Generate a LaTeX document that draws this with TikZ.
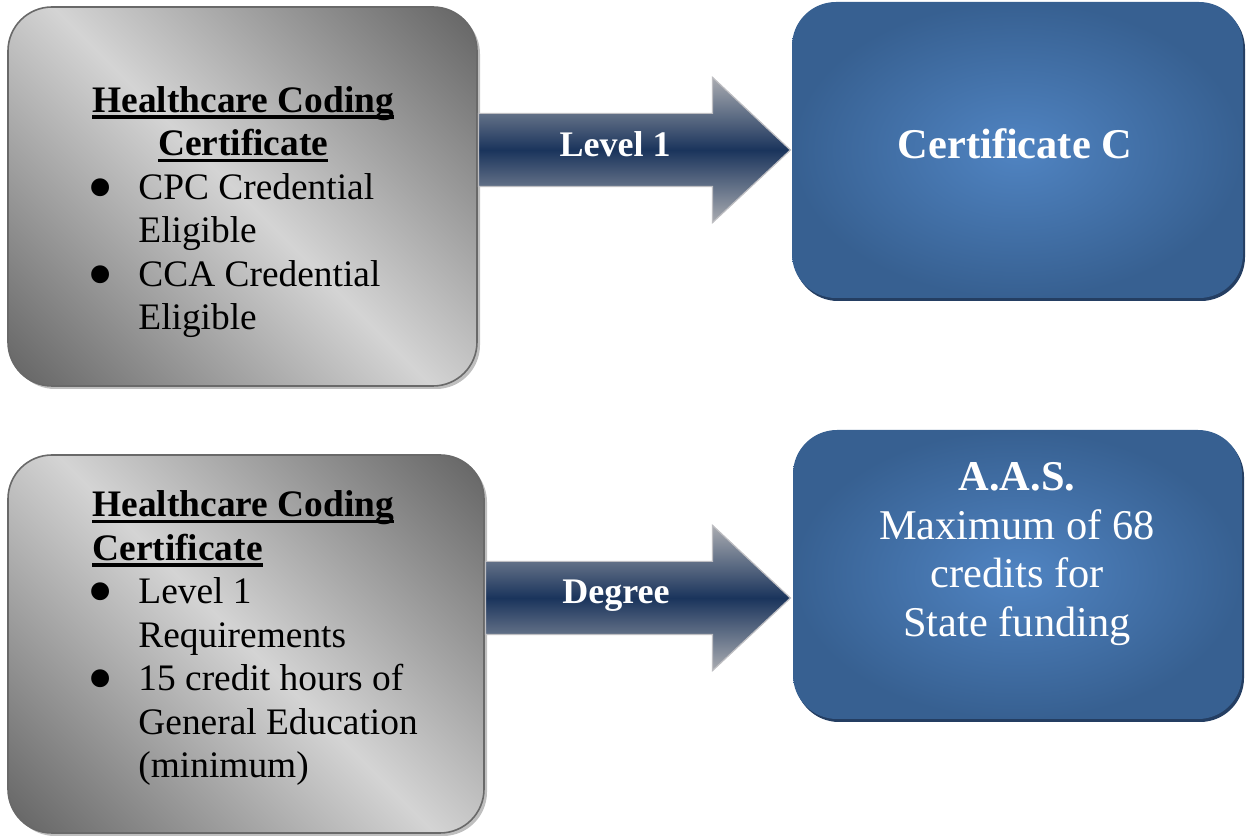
\documentclass[tikz,border=0pt]{standalone}
\usepackage{fontspec}
\usepackage{graphicx}
\setmainfont{Liberation Serif}
\usetikzlibrary{shapes.arrows,shadows}
\definecolor{boxdark}{RGB}{100,100,100}
\definecolor{boxlight}{RGB}{212,212,212}
\definecolor{boxline}{RGB}{105,105,105}
\definecolor{blueedge}{RGB}{55,96,145}
\definecolor{bluecentre}{RGB}{80,132,194}
\definecolor{blueshadow}{RGB}{36,62,98}
\definecolor{arrownavy}{RGB}{26,52,92}
\definecolor{arrowgrey}{RGB}{170,172,177}
\definecolor{arrowline}{RGB}{190,190,194}
\pgfdeclareverticalshading{greyband}{100bp}{color(0bp)=(boxdark); color(15bp)=(boxdark); color(50bp)=(boxlight); color(85bp)=(boxdark); color(100bp)=(boxdark)}
\newcommand{\titleline}[1]{\setbox0\hbox{#1}\rlap{\rule[-3.2pt]{\wd0}{1.8pt}}\box0}
\newcommand{\bull}{\makebox[23pt][l]{\hspace{-2.5pt}\raisebox{-6.3pt}[0pt][0pt]{\scalebox{2}{\textbullet}}}}
\tikzset{
  greybox/.style={rectangle, rounded corners=22pt, draw=boxline, line width=0.8pt,
    shading=greyband, shading angle=-45,
    drop shadow={shadow xshift=1.5pt, shadow yshift=-1.5pt, fill=black, opacity=0.25}},
  bluebox/.style={rectangle, rounded corners=22pt, draw=none,
    inner color=bluecentre, outer color=blueedge,
    drop shadow={shadow xshift=1pt, shadow yshift=-1.5pt, fill=blueshadow, opacity=1}},
  blockarrow/.style={single arrow, single arrow head extend=18pt, single arrow tip angle=86,
    inner xsep=0pt, inner ysep=18pt, anchor=tail, draw=arrowline, line width=0.6pt,
    top color=arrowgrey, bottom color=arrowgrey, middle color=arrownavy},
  boxtext/.style={inner sep=0pt, font=\fontsize{18.7}{21.75}\selectfont},
  arrowtext/.style={inner sep=0pt, anchor=base, text=white, font=\fontsize{18}{21}\selectfont\bfseries},
  bluetext/.style={inner sep=0pt, anchor=base, text=white, font=\fontsize{21.2}{24.2}\selectfont}
}

\begin{document}
\begin{tikzpicture}[x=0.5pt,y=-0.5pt]
\useasboundingbox (0,0) rectangle (1248,838);
% boxes
\node[greybox, minimum width=234.5pt, minimum height=189.5pt] (codecert) at (242.5,196.5) {};
\node[bluebox, minimum width=225.5pt, minimum height=148pt] (certc) at (1017.5,150) {};
\node[greybox, minimum width=238pt, minimum height=189pt] (codedeg) at (246,644) {};
\node[bluebox, minimum width=224.5pt, minimum height=144.5pt] (aas) at (1017.5,574.5) {};
% arrows between the boxes
\node[blockarrow, minimum height=156pt] (level) at (codecert.east |- 0,150) {};
\node[blockarrow, minimum height=152.5pt] (degree) at (codedeg.east |- 0,598) {};
\node[arrowtext] (leveltext) at (615,157) {Level 1};
\node[arrowtext] (degreetext) at (616,604) {Degree};
% texts
\node[boxtext, anchor=base west] (certlist) at (92,112.5) {\begin{tabular}[t]{@{}l@{}l@{}}
\multicolumn{2}{@{}c@{}}{\bfseries\titleline{Healthcare Coding}}\\
\multicolumn{2}{@{}c@{}}{\bfseries\titleline{Certificate}}\\
\bull & CPC Credential\\
 & Eligible\\
\bull & CCA Credential\\
 & Eligible
\end{tabular}};
\node[boxtext, anchor=base west] (deglist) at (92,517) {\begin{tabular}[t]{@{}l@{}l@{}}
\multicolumn{2}{@{}l@{}}{\bfseries\titleline{Healthcare Coding}}\\
\multicolumn{2}{@{}l@{}}{\bfseries\titleline{Certificate}}\\
\bull & Level 1\\
 & Requirements\\
\bull & 15 credit hours of\\
 & General Education\\
 & (minimum)
\end{tabular}};
\node[bluetext, font=\fontsize{21.2}{24.2}\selectfont\bfseries] (certctext) at (1015,159) {Certificate C};
\node[bluetext] (aastext) at (1017,491) {\begin{tabular}[t]{@{}c@{}}
\textbf{A.A.S.}\\
Maximum of 68\\
credits for\\
State funding
\end{tabular}};
\end{tikzpicture}
\end{document}
